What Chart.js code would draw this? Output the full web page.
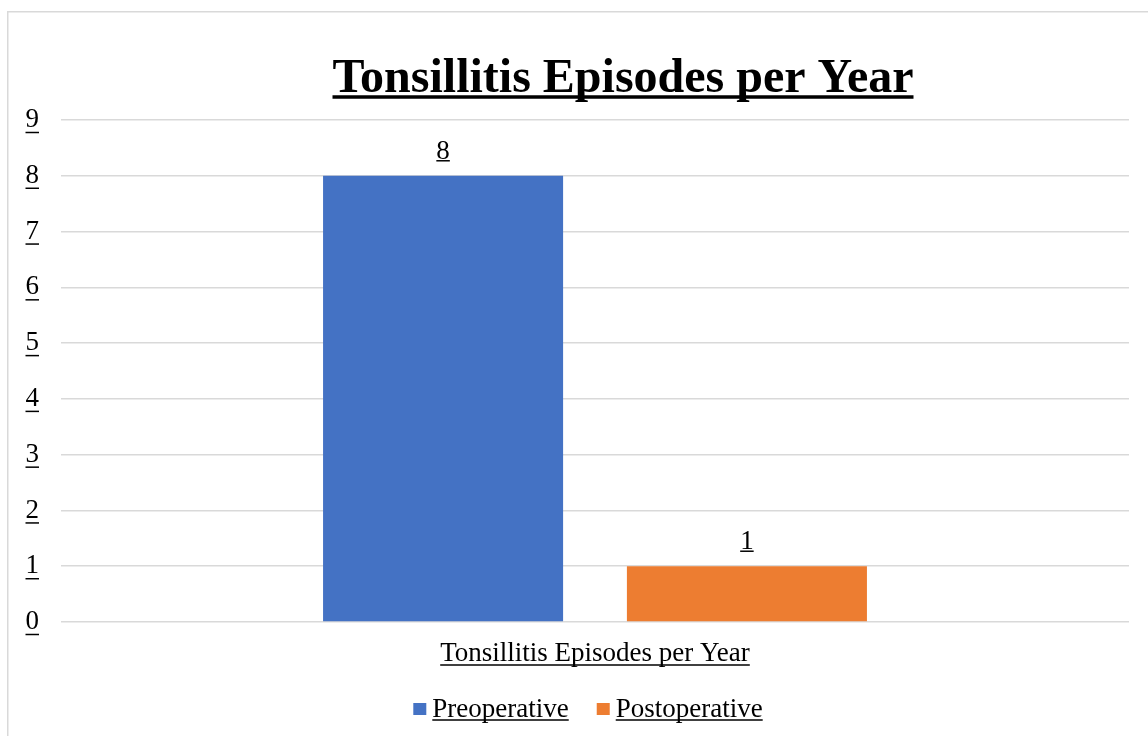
<!DOCTYPE html>
<html>
<head>
<meta charset="utf-8">
<title>Tonsillitis Episodes per Year</title>
<script src="https://cdn.jsdelivr.net/npm/chart.js@4.4.1/dist/chart.umd.min.js"></script>
<style>
  html, body { margin: 0; padding: 0; background: #fff; }
  #wrap { position: relative; width: 1148px; height: 736px; overflow: hidden; }
</style>
</head>
<body>
<div id="wrap"><canvas id="chart" width="1148" height="736"></canvas></div>
<script>
// chart data
const titleText = 'Tonsillitis Episodes per Year';
const categories = ['Tonsillitis Episodes per Year'];
const seriesNames = ['Preoperative', 'Postoperative'];
const preoperative = [8];
const postoperative = [1];
const seriesColors = ['#4472C4', '#ED7D31'];
const yTicks = [0, 1, 2, 3, 4, 5, 6, 7, 8, 9];

const FONT = '"Liberation Serif", "Times New Roman", serif';

function underline(ctx, x1, x2, y, w) {
  ctx.save();
  ctx.strokeStyle = '#000';
  ctx.lineWidth = w;
  ctx.beginPath();
  ctx.moveTo(x1, y);
  ctx.lineTo(x2, y);
  ctx.stroke();
  ctx.restore();
}

// Chart.js can't underline text, so title / labels / legend get drawn here
const decorations = {
  id: 'decorations',
  beforeDraw(chart) {
    const ctx = chart.ctx;
    ctx.save();
    ctx.strokeStyle = '#d9d9d9';
    ctx.lineWidth = 1.5;
    ctx.strokeRect(7.75, 11.75, chart.width + 20, chart.height + 20);
    ctx.restore();
  },
  afterDraw(chart) {
    const ctx = chart.ctx;
    const area = chart.chartArea;
    ctx.save();
    ctx.fillStyle = '#000';

    // title
    ctx.font = `bold 48px ${FONT}`;
    ctx.textAlign = 'center';
    ctx.textBaseline = 'alphabetic';
    const tx = 623, ty = 92;
    ctx.fillText(titleText, tx, ty);
    const tw = ctx.measureText(titleText).width;
    underline(ctx, tx - tw / 2, tx + tw / 2, ty + 5, 3.5);

    ctx.font = `27px ${FONT}`;

    // y tick underlines
    const ys = chart.scales.y;
    const rx = area.left - ys.options.ticks.padding;
    ys.ticks.forEach(t => {
      const w = ctx.measureText(String(t.value)).width;
      const py = ys.getPixelForValue(t.value);
      underline(ctx, rx - w, rx, py + 12.5, 1.5);
    });

    // x category underline
    const xs = chart.scales.x;
    categories.forEach((c, i) => {
      const w = ctx.measureText(c).width;
      const px = xs.getPixelForValue(i);
      underline(ctx, px - w / 2, px + w / 2, area.bottom + 43, 1.5);
    });

    // data labels
    chart.data.datasets.forEach((ds, di) => {
      chart.getDatasetMeta(di).data.forEach((bar, i) => {
        const txt = String(ds.data[i]);
        const w = ctx.measureText(txt).width;
        ctx.textAlign = 'center';
        ctx.fillText(txt, bar.x, bar.y - 17);
        underline(ctx, bar.x - w / 2, bar.x + w / 2, bar.y - 15, 1.5);
      });
    });

    // legend
    const boxW = 13, boxH = 12, gap = 6, itemGap = 28;
    const widths = seriesNames.map(n => ctx.measureText(n).width);
    const total = widths.reduce((a, b) => a + b, 0) + seriesNames.length * (boxW + gap) + itemGap * (seriesNames.length - 1);
    let lx = 588 - total / 2;
    const ly = 717;
    ctx.textAlign = 'left';
    seriesNames.forEach((n, i) => {
      ctx.fillStyle = seriesColors[i];
      ctx.fillRect(lx, ly - 14, boxW, boxH);
      lx += boxW + gap;
      ctx.fillStyle = '#000';
      ctx.fillText(n, lx, ly);
      underline(ctx, lx, lx + widths[i], ly + 3, 1.5);
      lx += widths[i] + itemGap;
    });

    ctx.restore();
  }
};

const ctx = document.getElementById('chart').getContext('2d');
const chart = new Chart(ctx, {
  type: 'bar',
  data: {
    labels: categories,
    datasets: [
      {
        label: seriesNames[0],
        data: preoperative,
        backgroundColor: seriesColors[0],
        categoryPercentage: 0.569,
        barPercentage: 0.79
      },
      {
        label: seriesNames[1],
        data: postoperative,
        backgroundColor: seriesColors[1],
        categoryPercentage: 0.569,
        barPercentage: 0.79
      }
    ]
  },
  options: {
    responsive: false,
    animation: false,
    devicePixelRatio: 1,
    layout: {
      padding: { top: 120, left: 3.5, right: 19, bottom: 49.6 }
    },
    plugins: {
      legend: { display: false },
      title: { display: false },
      tooltip: { enabled: false }
    },
    scales: {
      x: {
        grid: { display: false, drawTicks: false },
        border: { display: false },
        ticks: {
          color: '#000',
          padding: 16,
          font: { family: FONT, size: 27 }
        }
      },
      y: {
        min: 0,
        max: 9,
        afterBuildTicks: scale => {
          scale.ticks = yTicks.map(v => ({ value: v }));
        },
        grid: { color: '#d9d9d9', lineWidth: 1.5, drawTicks: false },
        border: { display: false },
        ticks: {
          color: '#000',
          padding: 22,
          font: { family: FONT, size: 27 }
        }
      }
    }
  },
  plugins: [decorations]
});
</script>
</body>
</html>
